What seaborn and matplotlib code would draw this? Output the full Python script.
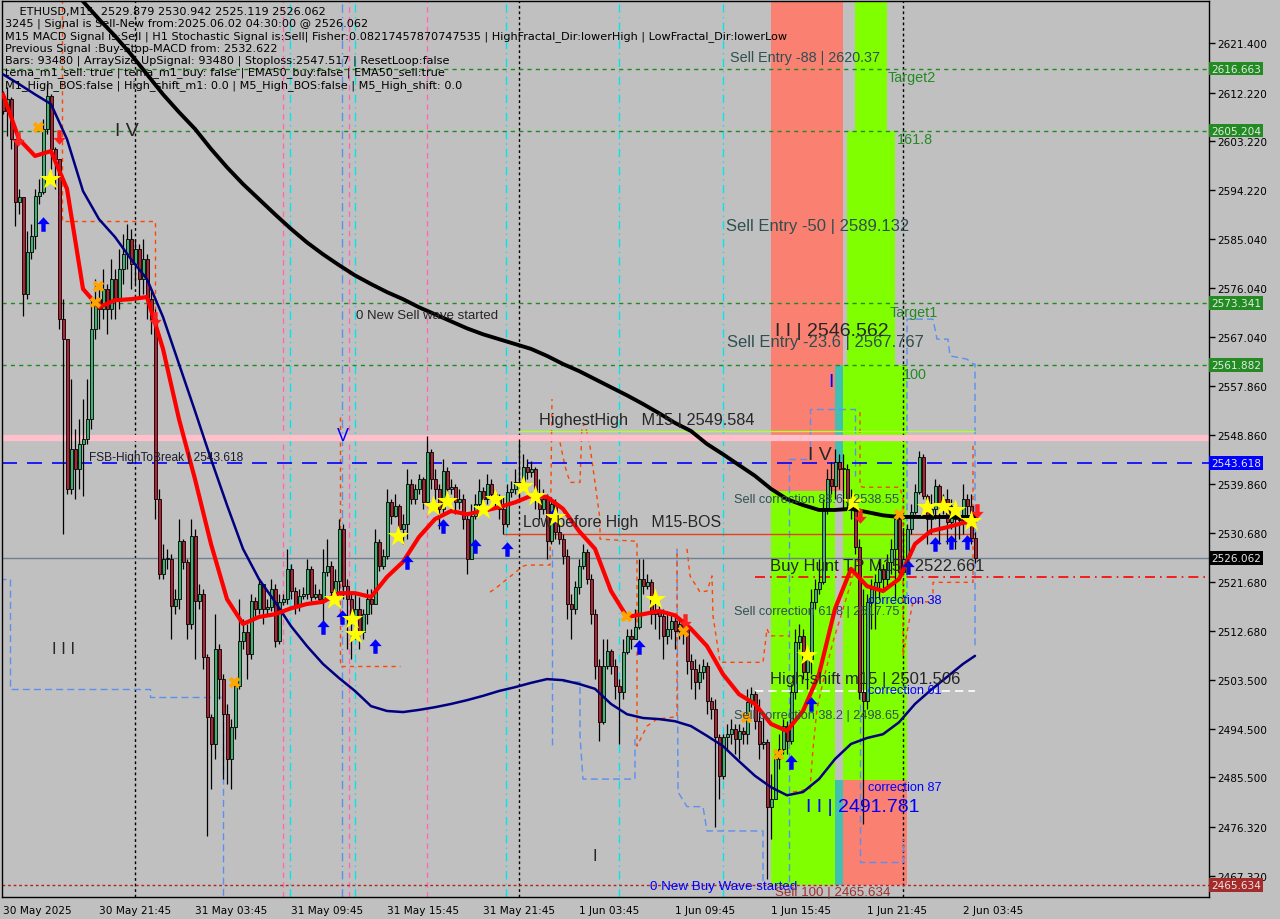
import numpy as np
import pandas as pd
import seaborn as sns
import matplotlib.pyplot as plt
from matplotlib.path import Path
from matplotlib.patches import Rectangle

# ------------- DATA (ETHUSD M15)
first_open = 2611.5
closes = [2608.8, 2611.0, 2603.6, 2591.9, 2592.9, 2574.9, 2582.7, 2585.7, 2593.1, 2593.8,
          2605.4, 2611.6, 2601.8, 2599.9, 2570.3, 2566.6, 2538.9, 2546.3, 2542.6, 2547.2,
          2548.1, 2551.8, 2568.5, 2574.0, 2572.2, 2575.9, 2572.2, 2577.7, 2574.0, 2579.6,
          2582.3, 2585.1, 2580.5, 2583.3, 2577.7, 2581.4, 2574.0, 2570.3, 2537.0, 2523.1,
          2525.9, 2525.9, 2517.2, 2518.5, 2529.2, 2525.3, 2513.9, 2530.2, 2518.1, 2519.4,
          2507.8, 2496.7, 2491.7, 2509.3, 2503.7, 2497.2, 2488.9, 2494.8, 2502.4, 2510.7,
          2512.4, 2508.3, 2518.1, 2516.7, 2521.3, 2516.7, 2517.0, 2520.4, 2510.7, 2517.9,
          2518.5, 2524.1, 2520.0, 2517.2, 2519.1, 2519.4, 2524.1, 2518.9, 2519.4, 2518.5,
          2523.5, 2524.6, 2519.8, 2521.8, 2531.5, 2520.9, 2518.5, 2514.8, 2516.7, 2512.4,
          2515.7, 2518.5, 2517.6, 2529.0, 2524.6, 2526.5, 2536.4, 2533.9, 2535.7, 2531.5,
          2532.4, 2539.8, 2537.0, 2538.9, 2540.7, 2536.4, 2545.7, 2540.7, 2538.9, 2535.2,
          2542.2, 2538.9, 2539.2, 2536.4, 2537.0, 2533.3, 2525.9, 2533.9, 2536.1, 2538.5,
          2537.0, 2539.8, 2537.9, 2537.0, 2535.2, 2532.4, 2538.3, 2538.9, 2540.2, 2539.8,
          2542.9, 2542.0, 2542.6, 2537.0, 2535.2, 2537.0, 2529.2, 2536.1, 2530.9, 2529.6,
          2526.5, 2517.6, 2516.7, 2520.7, 2524.6, 2527.2, 2522.2, 2515.7, 2506.1, 2495.7,
          2506.1, 2508.9, 2506.1, 2502.4, 2501.3, 2508.7, 2511.7, 2511.1, 2513.3, 2522.2,
          2520.9, 2521.6, 2515.7, 2516.3, 2515.4, 2511.7, 2513.0, 2514.4, 2512.6, 2513.9,
          2513.0, 2507.0, 2505.6, 2503.1, 2505.0, 2506.1, 2499.6, 2498.2, 2493.0, 2485.8,
          2493.0, 2493.5, 2494.5, 2492.6, 2494.1, 2493.5, 2499.4, 2500.9, 2495.9, 2491.7,
          2492.0, 2480.0, 2481.5, 2488.9, 2490.8, 2495.0, 2492.2, 2501.3, 2510.5, 2511.7,
          2505.0, 2507.4, 2517.9, 2520.4, 2521.6, 2535.2, 2540.7, 2539.4, 2543.8, 2542.6,
          2542.6, 2536.4, 2535.2, 2528.1, 2501.3, 2499.6, 2517.9, 2520.4, 2521.6, 2524.1,
          2522.2, 2525.3, 2527.8, 2533.3, 2523.5, 2525.9, 2531.5, 2534.6, 2538.3, 2544.8,
          2537.6, 2533.3, 2535.2, 2539.4, 2535.7, 2537.0, 2532.7, 2535.7, 2533.3, 2533.1,
          2537.0, 2535.7, 2529.879, 2526.062]
highs = [2612.5, 2613.2, 2611.4, 2603.6, 2594.4, 2592.9, 2586.6, 2587.9, 2594.4, 2596.2,
         2607.3, 2613.8, 2611.9, 2602.1, 2595.6, 2574.0, 2566.6, 2559.2, 2550.0, 2551.8,
         2555.5, 2559.2, 2574.0, 2577.7, 2575.9, 2579.6, 2576.8, 2581.4, 2579.6, 2583.3,
         2586.0, 2587.9, 2586.9, 2585.1, 2584.2, 2585.1, 2582.3, 2575.9, 2572.2, 2538.9,
         2528.7, 2527.8, 2526.8, 2520.4, 2533.3, 2529.6, 2525.9, 2533.3, 2531.5, 2521.3,
         2520.4, 2508.3, 2497.2, 2515.7, 2510.2, 2504.6, 2499.1, 2496.3, 2503.7, 2518.5,
         2514.8, 2513.9, 2519.4, 2518.9, 2522.2, 2521.3, 2518.5, 2522.2, 2521.3, 2519.4,
         2519.4, 2527.8, 2525.0, 2520.7, 2520.4, 2520.7, 2525.9, 2524.6, 2521.3, 2520.4,
         2527.8, 2529.6, 2525.5, 2524.1, 2533.3, 2532.4, 2522.2, 2519.4, 2519.4, 2518.9,
         2516.7, 2520.4, 2520.4, 2531.5, 2529.6, 2527.8, 2538.9, 2537.0, 2537.9, 2536.1,
         2534.2, 2542.6, 2540.7, 2539.8, 2541.6, 2541.1, 2548.7, 2546.3, 2542.6, 2539.8,
         2544.4, 2542.9, 2540.7, 2539.8, 2538.9, 2537.9, 2534.2, 2536.1, 2537.9, 2540.7,
         2539.2, 2541.6, 2540.7, 2538.9, 2537.9, 2537.4, 2539.8, 2540.3, 2542.6, 2548.1,
         2545.3, 2544.4, 2544.0, 2542.9, 2540.7, 2538.9, 2537.9, 2537.4, 2537.0, 2532.4,
         2530.5, 2527.8, 2519.4, 2521.8, 2525.9, 2528.7, 2527.8, 2523.1, 2516.7, 2507.4,
         2511.1, 2511.1, 2509.3, 2507.4, 2503.7, 2511.1, 2513.0, 2513.0, 2516.7, 2525.9,
         2525.9, 2523.1, 2522.2, 2518.5, 2517.6, 2516.7, 2515.7, 2515.7, 2515.2, 2515.2,
         2514.8, 2513.0, 2508.3, 2507.4, 2506.5, 2507.4, 2506.8, 2500.4, 2500.0, 2493.5,
         2493.5, 2495.4, 2496.3, 2495.4, 2495.4, 2494.8, 2501.9, 2502.2, 2501.5, 2500.0,
         2497.2, 2492.6, 2486.1, 2490.8, 2493.5, 2496.3, 2495.9, 2502.8, 2513.0, 2513.9,
         2513.0, 2509.3, 2520.4, 2522.2, 2525.9, 2537.0, 2542.6, 2543.8, 2546.3, 2545.3,
         2545.3, 2543.5, 2538.9, 2536.1, 2529.6, 2520.4, 2519.4, 2522.2, 2523.1, 2525.9,
         2525.0, 2526.8, 2529.6, 2534.2, 2534.2, 2531.5, 2532.4, 2536.1, 2539.8, 2545.9,
         2545.3, 2537.9, 2537.9, 2540.7, 2539.8, 2537.9, 2538.9, 2537.0, 2535.2, 2534.2,
         2539.8, 2537.9, 2537.9, 2530.942]
lows = [2608.2, 2604.2, 2601.8, 2587.5, 2589.7, 2570.9, 2574.0, 2581.4, 2583.3, 2591.6,
        2593.4, 2604.5, 2598.1, 2594.4, 2568.5, 2530.5, 2537.9, 2537.9, 2537.0, 2538.9,
        2537.6, 2547.2, 2550.0, 2566.6, 2568.5, 2570.3, 2567.5, 2570.3, 2570.3, 2572.2,
        2576.8, 2579.6, 2575.9, 2576.8, 2574.0, 2574.9, 2570.3, 2567.5, 2533.3, 2522.2,
        2522.2, 2524.1, 2511.1, 2515.7, 2516.7, 2524.1, 2511.1, 2513.0, 2507.4, 2516.7,
        2505.6, 2474.7, 2483.4, 2488.9, 2500.0, 2485.2, 2484.3, 2483.4, 2492.6, 2501.9,
        2509.3, 2503.7, 2507.4, 2514.8, 2515.7, 2513.9, 2515.7, 2516.3, 2509.6, 2510.2,
        2517.4, 2517.6, 2518.5, 2515.7, 2516.3, 2518.5, 2518.5, 2518.1, 2518.5, 2518.0,
        2513.9, 2522.8, 2517.6, 2518.5, 2519.4, 2518.5, 2509.3, 2507.4, 2511.1, 2509.3,
        2511.1, 2513.9, 2515.7, 2517.6, 2523.7, 2524.1, 2525.9, 2532.4, 2533.7, 2529.6,
        2528.7, 2529.6, 2536.1, 2536.1, 2537.9, 2535.2, 2536.1, 2538.9, 2537.0, 2531.5,
        2534.2, 2537.0, 2537.9, 2534.2, 2535.2, 2531.5, 2523.1, 2525.9, 2533.3, 2535.2,
        2536.1, 2536.1, 2537.0, 2535.2, 2533.3, 2530.5, 2531.8, 2537.4, 2537.9, 2537.0,
        2538.9, 2540.7, 2541.1, 2535.2, 2533.3, 2534.2, 2525.9, 2528.7, 2529.6, 2528.7,
        2525.0, 2514.8, 2511.1, 2515.7, 2519.4, 2524.1, 2521.3, 2513.9, 2503.7, 2492.2,
        2495.4, 2505.6, 2504.6, 2500.0, 2491.7, 2500.0, 2508.3, 2509.3, 2511.1, 2513.0,
        2519.4, 2520.4, 2513.9, 2513.0, 2511.1, 2507.4, 2510.2, 2511.1, 2509.3, 2511.1,
        2510.2, 2504.6, 2501.9, 2500.0, 2501.9, 2503.7, 2497.2, 2496.3, 2476.3, 2481.5,
        2485.2, 2490.8, 2491.7, 2489.8, 2488.9, 2491.7, 2491.7, 2498.5, 2494.5, 2488.9,
        2490.8, 2466.7, 2474.1, 2481.5, 2487.1, 2489.8, 2489.8, 2491.7, 2500.0, 2509.3,
        2503.7, 2501.9, 2504.6, 2516.7, 2519.4, 2521.3, 2534.2, 2537.9, 2537.0, 2538.9,
        2535.2, 2535.2, 2533.3, 2526.8, 2500.0, 2476.9, 2498.2, 2513.0, 2513.0, 2518.5,
        2520.4, 2520.4, 2523.1, 2518.5, 2522.2, 2523.1, 2525.0, 2530.5, 2534.2, 2537.9,
        2537.0, 2528.7, 2530.5, 2533.3, 2528.7, 2534.2, 2528.7, 2531.5, 2527.8, 2529.6,
        2530.5, 2533.3, 2528.7, 2525.119]

# moving averages, sampled every 4 bars
ma_bars = list(range(0, 244, 4)) + [243]
ema_red = [2611.9, 2603.6, 2600.5, 2601.4, 2594.4, 2575.9, 2572.5, 2573.8, 2574.0, 2574.4,
           2564.8, 2551.8, 2540.7, 2528.7, 2518.5, 2513.9, 2515.2, 2515.7, 2516.8, 2517.6,
           2518.0, 2519.6, 2519.6, 2518.9, 2522.6, 2525.4, 2530.0, 2533.3, 2534.8, 2534.2,
           2534.8, 2535.5, 2536.4, 2537.6, 2537.4, 2535.2, 2531.1, 2527.8, 2520.0, 2515.2,
           2515.7, 2516.3, 2515.5, 2513.0, 2509.8, 2504.6, 2500.9, 2499.1, 2495.4, 2494.1,
           2497.8, 2504.6, 2516.7, 2524.1, 2520.9, 2520.0, 2522.2, 2528.7, 2531.1, 2531.8,
           2532.6, 2532.9]
ema_navy = [2615.6, 2613.8, 2611.9, 2610.1, 2603.6, 2594.0, 2588.8, 2585.5, 2581.4, 2577.7,
            2570.7, 2562.0, 2553.3, 2544.4, 2535.9, 2527.8, 2522.2, 2518.0, 2513.5, 2509.8,
            2506.5, 2503.9, 2501.5, 2498.7, 2497.8, 2497.6, 2498.0, 2498.5, 2499.1, 2499.8,
            2500.6, 2501.5, 2502.2, 2503.0, 2503.7, 2503.5, 2502.8, 2501.9, 2499.1, 2497.2,
            2496.5, 2496.3, 2495.9, 2495.0, 2493.2, 2491.3, 2488.5, 2485.8, 2483.7, 2482.2,
            2482.8, 2485.2, 2488.9, 2491.7, 2492.8, 2493.5, 2495.7, 2499.1, 2501.7, 2504.1,
            2506.5, 2508.0]
ma200_bars = list(range(16, 244, 4)) + [243]
ma200 = [2632.6, 2629.1, 2625.8, 2622.7, 2619.3, 2615.6, 2611.9, 2608.6, 2605.5, 2601.8,
         2598.4, 2595.3, 2592.5, 2589.7, 2587.0, 2584.5, 2582.3, 2580.3, 2578.4, 2576.8,
         2575.3, 2574.0, 2572.5, 2571.2, 2569.9, 2568.6, 2567.5, 2566.6, 2565.7, 2564.8,
         2563.5, 2562.0, 2560.7, 2559.2, 2557.7, 2556.2, 2554.6, 2552.9, 2551.1, 2549.6,
         2547.2, 2545.3, 2543.3, 2541.3, 2538.9, 2537.0, 2535.9, 2535.0, 2535.0, 2535.2,
         2534.6, 2534.0, 2533.7, 2533.7, 2533.7, 2533.7, 2533.7, 2533.7]

# dashed channel steps, each (bars, prices)
orange_steps = [
    ([14.75, 14.75, 38, 38], [2630.0, 2588.4, 2588.4, 2566.0]),
    ([84.25, 84.25, 99.25], [2552.2, 2506.1, 2506.1]),
    ([121.75, 123, 130, 131, 135, 136.75, 137.25],
     [2519.8, 2520.4, 2524.6, 2524.8, 2524.8, 2524.8, 2555.5]),
    ([139.25, 140.5, 141.75, 144.25, 144.75, 145.5, 146.75, 149.25, 149.25, 158.5, 158.5, 161, 163.5, 168, 168.5, 168.5],
     [2547.5, 2543.1, 2540.1, 2540.1, 2550.5, 2550.9, 2546.8, 2533.3, 2529.6, 2529.2, 2491.3, 2495.0, 2496.3, 2496.7, 2496.7, 2527.8]),
    ([171, 171.75, 174.25, 176, 177.25, 177.5, 178.75, 179.25, 190, 191, 191.75, 196.75],
     [2527.8, 2522.8, 2519.8, 2520.0, 2522.8, 2515.4, 2509.3, 2506.8, 2506.8, 2513.0, 2511.7, 2511.7]),
    ([197.5, 201.75, 202.5, 203.5, 205, 207.5, 211, 213.5, 214.25],
     [2482.8, 2483.4, 2490.8, 2498.2, 2503.2, 2510.6, 2519.1, 2525.4, 2527.8]),
    ([214.25, 214.25, 215, 224.25, 225, 225, 226, 227.5, 232.5, 232.5, 242.5, 242.5],
     [2553.1, 2539.4, 2539.2, 2539.2, 2537.0, 2508.0, 2512.4, 2518.0, 2518.0, 2521.6, 2521.6, 2547.5]),
]
blue_steps = [
    ([-1, 1.75, 1.75, 36.75, 36.75, 55, 55], [2522.2, 2522.2, 2501.9, 2501.9, 2500.4, 2500.4, 2460.0]),
    ([137.25, 137.25], [2527.8, 2490.8]),
    ([140, 144.25, 144.25, 145, 158, 158], [2503.2, 2503.2, 2493.2, 2485.2, 2485.2, 2492.6]),
    ([168.5, 168.75, 171, 175, 176, 190, 190], [2527.8, 2482.8, 2480.1, 2480.1, 2475.6, 2475.6, 2465.8]),
    ([196.5, 196.5, 201.75, 201.75, 213, 213], [2460.0, 2544.4, 2544.4, 2553.7, 2553.7, 2541.3]),
    ([214.25, 214.25, 225, 225], [2521.7, 2469.9, 2469.9, 2474.1]),
    ([226, 226, 232.5, 233.5, 236.25, 236.75, 241, 242.5, 243, 243],
     [2518.5, 2570.3, 2570.3, 2566.6, 2566.6, 2563.5, 2562.9, 2562.0, 2562.0, 2509.3]),
]

# signal markers (bar, price)
star_bar = [11.75, 82.75, 87.25, 88, 98.75, 107.5, 111, 120, 123, 130, 133, 138, 163, 201, 212.5, 231, 235, 238, 242]
star_px = [2596.2, 2518.5, 2514.8, 2512.0, 2530.2, 2535.7, 2536.6, 2535.2, 2537.0, 2539.4, 2537.6,
           2533.7, 2518.5, 2508.1, 2536.4, 2535.5, 2535.7, 2535.0, 2532.9]
cross_bar = [8.75, 23.75, 23, 57.75, 155.75, 170, 185.75, 193.75, 224]
cross_px = [2605.8, 2576.4, 2573.4, 2503.1, 2515.4, 2512.6, 2496.7, 2489.8, 2534.2]
up_bar = [10, 80, 84.75, 93, 101, 110, 118, 126, 137.5, 159, 197, 202, 226.25, 233, 237, 241]
up_px = [2587.9, 2513.3, 2515.2, 2509.8, 2525.3, 2532.0, 2528.3, 2527.8, 2533.9, 2509.6,
         2488.4, 2499.1, 2524.4, 2528.7, 2529.0, 2529.0]
down_bar = [3.75, 14, 38, 170.5, 214.25, 243.5]
down_px = [2603.6, 2604.0, 2570.3, 2514.4, 2533.9, 2534.8]

# levels
target_levels = [2616.663, 2605.204, 2573.341, 2561.882]
fsb_level = 2543.618
last_price = 2526.062
highest_high = 2549.584
low_before_high = 2530.5
buy_hunt_tp = 2522.661
high_shift = 2501.506
sell_100 = 2465.634
pink_level = 2548.3

y_ticks = [2621.400, 2612.220, 2603.220, 2594.220, 2585.040, 2576.040, 2567.040, 2557.860,
           2548.860, 2539.860, 2530.680, 2521.680, 2512.680, 2503.500, 2494.500, 2485.500,
           2476.320, 2467.320]
x_tick_bars = [0, 24, 48, 72, 96, 120, 144, 168, 192, 216, 240]
x_tick_labels = ["30 May 2025", "30 May 21:45", "31 May 03:45", "31 May 09:45", "31 May 15:45",
                 "31 May 21:45", "1 Jun 03:45", "1 Jun 09:45", "1 Jun 15:45", "1 Jun 21:45",
                 "2 Jun 03:45"]

header = ["    ETHUSD,M15  2529.879 2530.942 2525.119 2526.062",
          "3245 | Signal is Sell-New from:2025.06.02 04:30:00 @ 2526.062",
          "M15 MACD Signal is:Sell | H1 Stochastic Signal is:Sell| Fisher:0.08217457870747535 | HighFractal_Dir:lowerHigh | LowFractal_Dir:lowerLow",
          "Previous Signal :Buy-Stop-MACD from: 2532.622",
          "Bars: 93480 | ArraySize UpSignal: 93480 | Stoploss:2547.517 | ResetLoop:false",
          "tema_m1_sell: true | tema_m1_buy: false | EMA50_buy:false | EMA50_sell:true",
          "M1_High_BOS:false | High_shift_m1: 0.0 | M5_High_BOS:false | M5_High_shift: 0.0"]

# ------------- STYLE
BG = "#C0C0C0"
sns.set_style("white", {"axes.facecolor": BG, "figure.facecolor": BG})
plt.rcParams["font.family"] = ["DejaVu Sans"]

opens = [first_open] + closes[:-1]
df = pd.DataFrame({"bar": np.arange(len(closes)), "open": opens, "high": highs,
                   "low": lows, "close": closes})
df["top"] = df[["high", "open", "close"]].max(axis=1)
df["bot"] = df[["low", "open", "close"]].min(axis=1)

W, H = 1280, 920
fig = plt.figure(figsize=(12.8, 9.2), dpi=100)
ax = fig.add_axes([2 / W, 1 - 898 / H, 1207 / W, 896 / H])
ax.set_xlim(-0.25, 301.5)
ax.set_ylim(2463.38, 2629.17)


def ptext(x, y, s, **kw):
    fig.text(x / W, 1 - y / H, s, va="center", ha="left", **kw)


# coloured zones
zones = [(192, 210, 2538.5, 2630, "#FA8072"),
         (192, 208, sell_100, 2538.5, "#7FFF00"),
         (208, 210, fsb_level, 2561.882, "#40C0B0"),
         (208, 210, sell_100, 2485.1, "#40C0B0"),
         (210, 226, 2485.1, 2561.882, "#7FFF00"),
         (211, 223, 2561.882, 2605.204, "#7FFF00"),
         (213, 221, 2605.204, 2630, "#7FFF00"),
         (210, 226, sell_100, 2485.1, "#FA8072")]
for x0, x1, y0, y1, c in zones:
    ax.add_patch(Rectangle((x0, y0), x1 - x0, y1 - y0, color=c, lw=0, zorder=0))

# vertical separators
for b in [33, 129, 225]:
    ax.axvline(b, color="black", lw=1, ls=(0, (2, 2)), zorder=1)
for b in [70, 86.5, 106]:
    ax.axvline(b, color="#FF69B4", lw=1, ls=(0, (4, 3)), zorder=1)
for b in [71.75, 88, 125.75, 154, 180]:
    ax.axvline(b, color="#00E5EE", lw=1, ls=(0, (6, 3, 1, 3)), zorder=1)
ax.axvline(84.75, color="#5B8FF0", lw=1, ls=(0, (6, 3, 1, 3)), zorder=1)

# channel steps
for bx, py in blue_steps:
    ax.plot(bx, py, color="#5B8FF0", lw=1, ls=(0, (5, 3)), zorder=1)
for bx, py in orange_steps:
    ax.plot(bx, py, color="#FF4500", lw=1, ls=(0, (3, 3)), zorder=1)

# horizontal levels
for lv in target_levels:
    ax.axhline(lv, color="#1E8C1E", lw=1, ls=(0, (3, 3)), zorder=1)
ax.axhline(pink_level, color="#FFC0CB", lw=4.5, zorder=1)
ax.axhline(fsb_level, color="#0000FF", lw=1.2, ls=(0, (9, 6)), zorder=2)
ax.axhline(last_price, color="#708090", lw=1, zorder=1)
ax.axhline(sell_100, color="#B22222", lw=1, ls=(0, (2, 2)), zorder=1)
ax.hlines(highest_high, 129, 243, color="#ADFF2F", lw=1, zorder=1)
ax.hlines(low_before_high, 125, 243, color="#E8401C", lw=1, zorder=1)
ax.hlines(buy_hunt_tp, 188, 301.5, color="#FF0000", lw=1.2, ls=(0, (6, 3, 1, 3)), zorder=1)
ax.hlines(high_shift, 188, 243, color="white", lw=1.2, ls=(0, (5, 3)), zorder=1)

# candles
up = df["close"] >= df["open"]
ax.vlines(df["bar"], df["bot"], df["top"], color="black", lw=0.9, zorder=3)
ax.bar(df["bar"], (df["close"] - df["open"]).where(lambda s: s.abs() > 0.15, 0.15),
       bottom=df["open"], width=0.75, color=np.where(up, "#3CB371", "#B22234"),
       edgecolor="black", linewidth=0.6, zorder=4)

# moving averages
sns.lineplot(x=ma200_bars, y=ma200, ax=ax, color="black", lw=2.8, estimator=None, zorder=5)
sns.lineplot(x=ma_bars, y=ema_navy, ax=ax, color="#000080", lw=1.8, estimator=None, zorder=5)
sns.lineplot(x=ma_bars, y=ema_red, ax=ax, color="#FF0000", lw=3, estimator=None, zorder=6)

# signals
arrow = Path([(0, 1), (-0.85, 0.05), (-0.3, 0.05), (-0.3, -1), (0.3, -1), (0.3, 0.05), (0.85, 0.05), (0, 1)])
arrow_dn = Path(arrow.vertices * np.array([1, -1]))
ax.scatter(up_bar, up_px, marker=arrow, s=110, color="#0000FF", lw=0, zorder=7)
ax.scatter(down_bar, down_px, marker=arrow_dn, s=110, color="#FF2020", lw=0, zorder=7)
ax.scatter(cross_bar, cross_px, marker="X", s=70, color="#FFA500", lw=0, zorder=7)
ax.scatter(star_bar, star_px, marker="*", s=260, color="#FFFF00", lw=0, zorder=7)

# axes
ax.yaxis.tick_right()
ax.set_yticks(y_ticks)
ax.set_yticklabels([f"{v:.3f}" for v in y_ticks])
ax.set_xticks(x_tick_bars)
ax.set_xticklabels(x_tick_labels, ha="left")
ax.tick_params(axis="both", direction="out", length=4, width=1, colors="black",
               labelsize=7.6, pad=2)
ax.set_xlabel("")
ax.set_ylabel("")
for sp in ax.spines.values():
    sp.set_color("black")
    sp.set_linewidth(1)

# right axis price boxes
boxes = [(2616.663, "#228B22"), (2605.204, "#228B22"), (2573.341, "#228B22"),
         (2561.882, "#228B22"), (fsb_level, "#0000FF"), (last_price, "black"),
         (sell_100, "#A52A2A")]
for v, c in boxes:
    ax.text(1.0018, v, f"{v:.3f}", transform=ax.get_yaxis_transform(), va="center", ha="left",
            fontsize=7.6, color="#E8E8E8", clip_on=False,
            bbox=dict(boxstyle="square,pad=0.18", fc=c, ec="none"), zorder=10)

# header
for k, line in enumerate(header):
    ptext(5, 12 + 12.2 * k, line, fontsize=8.15, color="black")

# chart labels
LS = "Liberation Sans"
SL = "#2F4F4F"
GR = "#228B22"
ptext(115, 132, "I V", fontsize=14, family=LS)
ptext(730, 58, "Sell Entry -88 | 2620.37", fontsize=10.4, color=SL, family=LS)
ptext(888, 78, "Target2", fontsize=10.4, color=GR, family=LS)
ptext(897, 140, "161.8", fontsize=10.4, color=GR, family=LS)
ptext(726, 227, "Sell Entry -50 | 2589.132", fontsize=12, color=SL, family=LS)
ptext(890, 313, "Target1", fontsize=10.4, color=GR, family=LS)
ptext(356, 316, "0 New Sell wave started", fontsize=9.5, family=LS)
ptext(775, 332, "I I | 2546.562", fontsize=14, family=LS)
ptext(727, 343, "Sell Entry -23.6 | 2567.767", fontsize=12, color=SL, family=LS)
ptext(903, 375, "100", fontsize=10.4, color=GR, family=LS)
ptext(828, 383, "I", fontsize=14, color="#0000FF", family=LS)
ptext(337, 437, "V", fontsize=13, color="#0000FF", family=LS)
ptext(539, 420, "HighestHigh   M15 | 2549.584", fontsize=11.7, family=LS)
ptext(89, 458, "FSB-HighToBreak | 2543.618", fontsize=8.6, color="#1A1A2E", family=LS)
ptext(808, 456, "I V", fontsize=14, family=LS)
ptext(734, 500, "Sell correction 88.6 | 2538.55", fontsize=9.2, color=SL, family=LS)
ptext(523, 523, "Low before High   M15-BOS", fontsize=11.4, family=LS)
ptext(770, 566, "Buy Hunt TP M15 | 2522.661", fontsize=12, family=LS)
ptext(868, 601, "correction 38", fontsize=9.2, color="#0000FF", family=LS)
ptext(734, 612, "Sell correction 61.8 | 2517.75", fontsize=9.2, color=SL, family=LS)
ptext(52, 650, "I I I", fontsize=12, family=LS)
ptext(770, 680, "High-shift m15 | 2501.506", fontsize=12, family=LS)
ptext(868, 691, "correction 61", fontsize=9.2, color="#0000FF", family=LS)
ptext(734, 716, "Sell correction 38.2 | 2498.65", fontsize=9.2, color=SL, family=LS)
ptext(868, 788, "correction 87", fontsize=9.2, color="#0000FF", family=LS)
ptext(806, 808, "I I | 2491.781", fontsize=14, color="#0000FF", family=LS)
ptext(593, 857, "I", fontsize=12, family=LS)
ptext(650, 887, "0 New Buy Wave started", fontsize=9.6, color="#0000FF", family=LS)
ptext(775, 893, "Sell 100 | 2465.634", fontsize=9.6, color="#A0302A", family=LS)

fig.savefig("out.png", dpi=100, facecolor=BG)
